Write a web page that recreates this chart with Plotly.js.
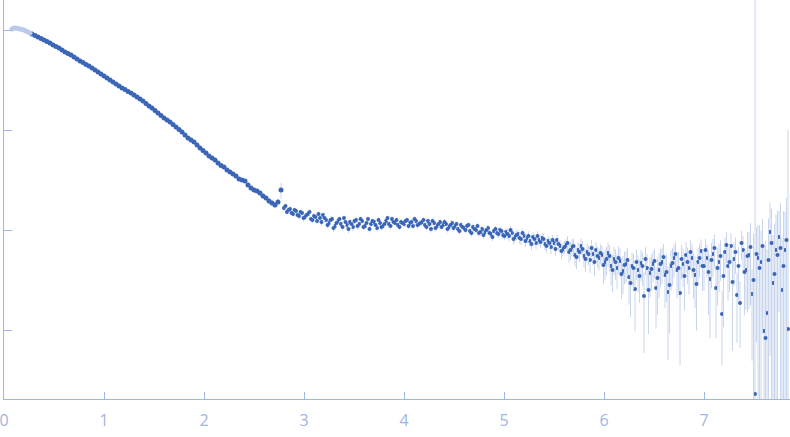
<!DOCTYPE html>
<html>
<head>
<meta charset="utf-8">
<script src="https://cdn.plot.ly/plotly-3.0.1.min.js"></script>
<style>html,body{margin:0;padding:0;background:#fff;}#chart{width:790px;height:437px;}</style>
</head>
<body>
<div id="chart"></div>
<script>
// Excluded low-q points (light)
const qExcluded = [0.08,0.10,0.12,0.14,0.16,0.18,0.20,0.22,0.24,0.26];
const iExcluded = [1.023,1.047,1.047,1.035,1.023,1.012,1.000,0.977,0.955,0.933];

// Smooth region
const qSmooth = [0.28,0.31,0.34,0.37,0.40,0.43,0.46,0.49,0.52,0.55,0.58,0.61,0.64,0.67,0.70,0.73,0.76,0.79,0.82,0.85,
0.88,0.91,0.94,0.97,1.00,1.03,1.06,1.09,1.12,1.15,1.18,1.21,1.24,1.27,1.30,1.33,1.36,1.39,1.42,1.45,
1.48,1.51,1.54,1.57,1.60,1.63,1.66,1.69,1.72,1.75,1.78,1.81,1.84,1.87,1.90,1.93,1.96,1.99,2.02,2.05,
2.08,2.11,2.14,2.17,2.20,2.23,2.26,2.29,2.32,2.35,2.38,2.41,2.44,2.47,2.50,2.53,2.56,2.59,2.62,2.65,
2.68,2.71,2.74,2.77];
const iSmooth = [0.9120,0.881,0.8511,0.822,0.7943,0.767,0.7413,0.7079,0.684,0.6607,0.6310,0.6026,0.582,0.5623,0.5370,0.5129,0.4898,0.473,0.452,0.4365,
0.4169,0.3981,0.3802,0.3631,0.3467,0.3311,0.3162,0.3020,0.2884,0.2754,0.2630,0.2541,0.2427,0.2344,0.2239,0.2138,0.2042,0.1950,0.1841,0.1738,
0.1660,0.1567,0.1479,0.1396,0.1318,0.1259,0.1202,0.1135,0.1072,0.1012,0.0955,0.0891,0.0832,0.0794,0.0759,0.0708,0.0661,0.0624,0.0589,0.0550,
0.0525,0.0501,0.0468,0.0442,0.0427,0.0398,0.0380,0.0363,0.0347,0.0324,0.0316,0.0309,0.0282,0.0263,0.0251,0.0246,0.0234,0.0219,0.0209,0.0195,
0.0186,0.0178,0.0191,0.0251];
const errSmooth = [0.005,0.005,0.005,0.005,0.005,0.005,0.005,0.005,0.005,0.005,0.004,0.004,0.004,0.004,0.004,0.004,0.004,0.004,0.004,0.004,
0.003,0.003,0.003,0.003,0.003,0.003,0.003,0.003,0.003,0.003,0.0025,0.0025,0.0025,0.0025,0.0025,0.0025,0.0025,0.0025,0.0025,0.0025,
0.002,0.002,0.002,0.002,0.002,0.002,0.002,0.002,0.002,0.002,0.0012,0.0012,0.0012,0.0012,0.0012,0.0012,0.0012,0.0012,0.0012,0.0012,
0.0012,0.0012,0.0012,0.0012,0.0012,0.0012,0.0012,0.0012,0.0012,0.0012,0.0014,0.0014,0.0014,0.0014,0.0014,0.0014,0.0014,0.0014,0.0014,0.0014,
0.0014,0.0014,0.0014,0.0045];

// Higher-q region, set A
const qNoisyA = [2.80,2.83,2.86,2.89,2.92,2.95,2.98,3.01,3.04,3.07,3.10,3.13,3.16,3.19,3.22,3.25,3.28,3.31,3.34,3.37,
3.40,3.43,3.46,3.49,3.52,3.55,3.58,3.61,3.64,3.67,3.70,3.73,3.76,3.79,3.82,3.85,3.88,3.91,3.94,3.97,
4.00,4.03,4.06,4.09,4.12,4.15,4.18,4.21,4.24,4.27,4.30,4.33,4.36,4.39,4.42,4.45,4.48,4.51,4.54,4.57,
4.60,4.63,4.66,4.69,4.72,4.75,4.78,4.81,4.84,4.87,4.90,4.93,4.96,4.99,5.02,5.05,5.08,5.11,5.14,5.17,
5.20,5.23,5.26,5.29,5.32,5.35,5.38,5.41,5.44,5.47,5.50,5.53,5.56,5.59,5.62,5.65,5.68,5.71,5.74,5.77,
5.80,5.83,5.86,5.89,5.92,5.95,5.98,6.01,6.04,6.07,6.10,6.13,6.16,6.19,6.22,6.25,6.28,6.31,6.34,6.37,
6.40,6.43,6.46,6.49,6.52,6.55,6.58,6.61,6.64,6.67,6.70,6.73,6.76,6.79,6.82,6.85,6.88,6.91,6.94,6.97,
7.00,7.03,7.06,7.09,7.12,7.15,7.18,7.21,7.24,7.27,7.30,7.33,7.36,7.39,7.42,7.45,7.48,7.51,7.54,7.57,
7.60,7.63,7.66,7.69,7.72,7.75,7.78,7.81,7.84];
const iNoisyA = [0.01660,0.01514,0.01622,0.01445,0.01549,0.01380,0.01479,0.01349,0.01445,0.01288,
0.01380,0.01230,0.01318,0.01413,0.01259,0.01175,0.01288,0.01096,0.01230,0.01148,
0.01318,0.01122,0.01202,0.01072,0.01259,0.01148,0.01230,0.01096,0.01288,0.01148,
0.01202,0.01047,0.01175,0.01096,0.01230,0.01148,0.01288,0.01175,0.01122,0.01202,
0.01148,0.01259,0.01175,0.01096,0.01230,0.01148,0.01202,0.01122,0.01230,0.01023,
0.01175,0.01096,0.01202,0.01122,0.01148,0.01072,0.01175,0.01096,0.01023,0.01122,
0.01047,0.01096,0.009772,0.01072,0.01000,0.009333,0.01023,0.009550,0.01047,0.009120,
0.009772,0.009333,0.01000,0.008913,0.009550,0.008710,0.009333,0.008511,0.009120,0.008128,
0.008710,0.008318,0.007762,0.008511,0.007413,0.007943,0.008318,0.007244,0.007762,0.006761,
0.007413,0.007943,0.006918,0.006457,0.007079,0.006026,0.006761,0.005623,0.006310,0.006918,
0.005495,0.006026,0.005012,0.005754,0.006310,0.005248,0.005623,0.004786,0.005888,0.004365,
0.005129,0.004169,0.004898,0.003890,0.004571,0.003388,0.004365,0.002570,0.003981,0.004677,
0.002188,0.004169,0.003715,0.004571,0.002630,0.003981,0.004786,0.003548,0.002399,0.004365,
0.005248,0.003981,0.002344,0.004571,0.005623,0.004169,0.005248,0.003548,0.004786,0.006166,
0.004365,0.005248,0.003236,0.005754,0.002630,0.004786,0.001445,0.006026,0.004365,0.006918,
0.005129,0.002239,0.001862,0.006310,0.003981,0.005623,0.002291,0.0002291,0.005248,0.004786,
0.0009772,0.001479,0.009550,0.002951,0.006310,0.008511,0.002512,0.006310,0.001023];
const errNoisyA = [0.0010,0.0009,0.0010,0.0009,0.0009,0.0010,0.0009,0.0009,0.0010,0.0009,
0.0009,0.0009,0.0010,0.0009,0.0009,0.0009,0.0009,0.0010,0.0009,0.0009,
0.0009,0.0009,0.0009,0.0010,0.0009,0.0008,0.0008,0.0008,0.0008,0.0008,
0.0008,0.0008,0.0008,0.0008,0.0008,0.0008,0.0008,0.0008,0.0008,0.0008,
0.0008,0.0008,0.0008,0.0008,0.0008,0.0008,0.0008,0.0008,0.0008,0.0008,
0.0008,0.0008,0.0008,0.0008,0.0008,0.0008,0.0008,0.0008,0.0008,0.0008,
0.0008,0.0008,0.0008,0.0008,0.0008,0.0008,0.0008,0.0008,0.0008,0.0008,
0.0008,0.0008,0.0008,0.0008,0.0008,0.0010,0.0010,0.0010,0.0010,0.0010,
0.0010,0.0010,0.0010,0.0010,0.0010,0.0010,0.0010,0.0010,0.0010,0.0010,
0.0010,0.0010,0.0010,0.0010,0.0010,0.0013,0.0013,0.0013,0.0013,0.0013,
0.0013,0.0013,0.0013,0.0013,0.0013,0.0013,0.0013,0.0016,0.0016,0.0016,
0.0016,0.0016,0.0016,0.0016,0.0016,0.0016,0.0016,0.0016,0.0016,0.0016,
0.0016,0.0016,0.0016,0.0016,0.0016,0.0019,0.0019,0.0019,0.0019,0.0019,
0.0019,0.0019,0.0019,0.0019,0.0019,0.0019,0.0019,0.0019,0.0019,0.0019,
0.0019,0.0019,0.0024,0.0024,0.0018,0.0024,0.0010,0.0024,0.0024,0.0024,
0.0024,0.0015,0.0012,0.0024,0.0024,0.004,0.0018,3.0,0.006,0.005,
0.006,0.005,0.009,0.006,0.008,0.007,0.006,0.009,0.1];

// Higher-q region, set B (interleaved q)
const qNoisyB = [2.815,2.845,2.875,2.905,2.935,2.965,2.995,3.025,3.055,3.085,3.115,3.145,3.175,3.205,3.235,3.265,3.295,3.325,3.355,3.385,
3.415,3.445,3.475,3.505,3.535,3.565,3.595,3.625,3.655,3.685,3.715,3.745,3.775,3.805,3.835,3.865,3.895,3.925,3.955,3.985,
4.015,4.045,4.075,4.105,4.135,4.165,4.195,4.225,4.255,4.285,4.315,4.345,4.375,4.405,4.435,4.465,4.495,4.525,4.555,4.585,
4.615,4.645,4.675,4.705,4.735,4.765,4.795,4.825,4.855,4.885,4.915,4.945,4.975,5.005,5.035,5.065,5.095,5.125,5.155,5.185,
5.215,5.245,5.275,5.305,5.335,5.365,5.395,5.425,5.455,5.485,5.515,5.545,5.575,5.605,5.635,5.665,5.695,5.725,5.755,5.785,
5.815,5.845,5.875,5.905,5.935,5.965,5.995,6.025,6.055,6.085,6.115,6.145,6.175,6.205,6.235,6.265,6.295,6.325,6.355,6.385,
6.415,6.445,6.475,6.505,6.535,6.565,6.595,6.625,6.655,6.685,6.715,6.745,6.775,6.805,6.835,6.865,6.895,6.925,6.955,6.985,
7.015,7.045,7.075,7.105,7.135,7.165,7.195,7.225,7.255,7.285,7.315,7.345,7.375,7.405,7.435,7.465,7.495,7.525,7.555,7.585,
7.615,7.645,7.675,7.705,7.735,7.765,7.795,7.825];
const iNoisyB = [0.01738,0.01585,0.01479,0.01585,0.01413,0.01514,0.01318,0.01413,0.01514,0.01259,
0.01349,0.01445,0.01202,0.01318,0.01122,0.01259,0.01047,0.01175,0.01288,0.01072,
0.01202,0.01023,0.01148,0.01230,0.01096,0.01288,0.01072,0.01175,0.01023,0.01230,
0.01122,0.01259,0.01072,0.01148,0.01318,0.01096,0.01202,0.01259,0.01072,0.01175,
0.01230,0.01096,0.01202,0.01288,0.01122,0.01175,0.01259,0.01072,0.01148,0.01230,
0.01047,0.01148,0.01072,0.01202,0.01023,0.01122,0.01047,0.01148,0.009772,0.01072,
0.01000,0.01122,0.009333,0.01023,0.01096,0.009550,0.008913,0.01000,0.009333,0.008511,
0.01023,0.009120,0.009772,0.008710,0.009120,0.01000,0.008128,0.008913,0.008318,0.009333,
0.007762,0.008710,0.007244,0.008128,0.008710,0.007586,0.008128,0.006918,0.007413,0.007943,
0.006457,0.007244,0.006166,0.006761,0.007413,0.006310,0.006918,0.005370,0.006026,0.006457,
0.005129,0.005754,0.006607,0.004786,0.005495,0.005888,0.004467,0.005129,0.005495,0.003981,
0.004786,0.005248,0.003631,0.004467,0.005012,0.002951,0.004169,0.004786,0.003467,0.004365,
0.005129,0.002512,0.004074,0.004898,0.003311,0.004571,0.005370,0.003802,0.002818,0.004677,
0.005754,0.004169,0.005129,0.003467,0.004786,0.006026,0.003981,0.002884,0.005248,0.004365,
0.006310,0.003802,0.005012,0.006607,0.004169,0.005495,0.003467,0.007079,0.004786,0.003020,
0.006026,0.004365,0.007413,0.003802,0.005495,0.006761,0.003162,0.005754,0.004169,0.006918,
0.0008318,0.005012,0.007413,0.003631,0.005623,0.006607,0.004365,0.007943];
const errNoisyB = [0.0009,0.0009,0.0010,0.0009,0.0009,0.0009,0.0010,0.0009,0.0009,0.0009,
0.0010,0.0009,0.0009,0.0009,0.0009,0.0010,0.0009,0.0009,0.0009,0.0009,
0.0009,0.0010,0.0009,0.0009,0.0009,0.0008,0.0008,0.0008,0.0008,0.0008,
0.0008,0.0008,0.0008,0.0008,0.0008,0.0008,0.0008,0.0008,0.0008,0.0008,
0.0008,0.0008,0.0008,0.0008,0.0008,0.0008,0.0008,0.0008,0.0008,0.0008,
0.0008,0.0008,0.0008,0.0008,0.0008,0.0008,0.0008,0.0008,0.0008,0.0008,
0.0008,0.0008,0.0008,0.0008,0.0008,0.0008,0.0008,0.0008,0.0008,0.0008,
0.0008,0.0008,0.0008,0.0008,0.0010,0.0010,0.0010,0.0010,0.0010,0.0010,
0.0010,0.0010,0.0010,0.0010,0.0010,0.0010,0.0010,0.0010,0.0010,0.0010,
0.0010,0.0010,0.0010,0.0010,0.0013,0.0013,0.0013,0.0013,0.0013,0.0013,
0.0013,0.0013,0.0013,0.0013,0.0013,0.0013,0.0016,0.0016,0.0016,0.0016,
0.0016,0.0016,0.0016,0.0016,0.0016,0.0016,0.0016,0.0016,0.0016,0.0016,
0.0016,0.0016,0.0016,0.0016,0.0019,0.0019,0.0019,0.0019,0.0019,0.0019,
0.0019,0.0019,0.0019,0.0019,0.0019,0.0019,0.0019,0.0019,0.0019,0.0019,
0.0019,0.0024,0.0024,0.0024,0.0024,0.0024,0.0024,0.0024,0.0024,0.0024,
0.0024,0.0024,0.0024,0.0024,0.004,0.005,0.006,0.005,0.007,0.006,
0.007,0.008,0.009,0.008,0.010,0.012,0.011,0.013];

const xTicks = [0,1,2,3,4,5,6,7];
const yTicks = [0.001,0.01,0.1,1];

const axisColor = '#9fb5e3';
const dark = '#3b66b8';
const light = '#b9cbe8';
const errColor = '#c8d6ee';

function errBars(arr) {
  return {type: 'data', array: arr, visible: true, color: errColor, thickness: 1, width: 0};
}

const traces = [
  {x: qNoisyA, y: iNoisyA, type: 'scatter', mode: 'markers', marker: {color: dark, size: 4}, error_y: errBars(errNoisyA), showlegend: false},
  {x: qNoisyB, y: iNoisyB, type: 'scatter', mode: 'markers', marker: {color: dark, size: 4}, error_y: errBars(errNoisyB), showlegend: false},
  {x: qSmooth, y: iSmooth, type: 'scatter', mode: 'markers', marker: {color: dark, size: 5}, error_y: errBars(errSmooth), showlegend: false},
  {x: qExcluded, y: iExcluded, type: 'scatter', mode: 'markers', marker: {color: light, size: 5}, showlegend: false}
];

const layout = {
  width: 790, height: 437,
  margin: {l: 4, r: 0, t: 0, b: 38, pad: 0},
  paper_bgcolor: '#ffffff', plot_bgcolor: '#ffffff',
  showlegend: false,
  font: {family: 'Open Sans, DejaVu Sans, sans-serif', color: axisColor, size: 16},
  xaxis: {
    range: [0, 7.86], tickvals: xTicks, ticktext: xTicks.map(String),
    ticks: 'inside', ticklen: 7, tickcolor: axisColor, tickwidth: 1,
    showline: true, linecolor: axisColor, linewidth: 1,
    showgrid: false, zeroline: false, ticklabelstandoff: 7,
    ticklabeloverflow: 'allow',
    tickfont: {size: 16, color: axisColor}
  },
  yaxis: {
    type: 'log', range: [-3.69, 0.30], tickvals: yTicks,
    showticklabels: false, ticks: 'inside', ticklen: 8, tickcolor: axisColor, tickwidth: 1,
    showline: true, linecolor: axisColor, linewidth: 1,
    showgrid: false, zeroline: false
  }
};

Plotly.newPlot('chart', traces, layout, {displayModeBar: false, staticPlot: true});
</script>
</body>
</html>
